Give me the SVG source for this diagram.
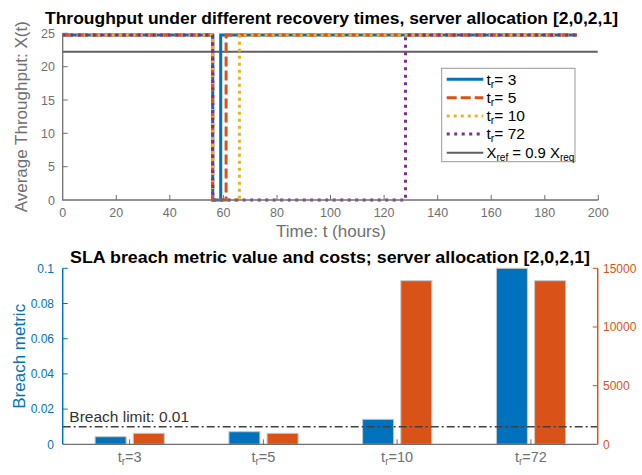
<svg xmlns="http://www.w3.org/2000/svg" width="642" height="475" viewBox="0 0 642 475">
<style>
text{font-family:"Liberation Sans",Arial,sans-serif}
.title{font-size:17px;font-weight:bold;fill:#000}
.tick{font-size:12.5px;fill:#707070}
.lab{font-size:17px;fill:#707070}
.ax{stroke:#707070;stroke-width:1.3;fill:none}
.tk{stroke:#707070;stroke-width:1;fill:none}
.s3{stroke:#0072BD;stroke-width:3;fill:none}
.s5{stroke:#D95319;stroke-width:3;fill:none;stroke-dasharray:10 4}
.s10{stroke:#EDB120;stroke-width:3;fill:none;stroke-dasharray:3 4}
.s72{stroke:#7E2F8E;stroke-width:3;fill:none;stroke-dasharray:3 4.5}
.sref{stroke:#606060;stroke-width:2;fill:none}
.leg{font-size:15.5px;fill:#000}
.btick{font-size:12px;fill:#0072BD}
.otick{font-size:12px;fill:#D95319}
.cat{font-size:14.5px;fill:#707070}
.bb{fill:#0072BD;stroke:#c8c8c8;stroke-width:1}
.ob{fill:#D95319;stroke:#c8c8c8;stroke-width:1}
</style>

<g id="top-plot">
  <text class="title" x="45" y="24" textLength="573" lengthAdjust="spacingAndGlyphs">Throughput under different recovery times, server allocation [2,0,2,1]</text>
  <g id="top-series">
    <path class="sref" d="M62.7,51.8 H597.7"/>
    <path class="s3" d="M62.7,35 H212.7 V200 H220.7 V35 H576.9"/>
    <path class="s5" d="M62.7,35 H212.7 V200 H226.1 V35 H576.9"/>
    <path class="s10" d="M62.7,35 H212.7 V200 H239.4 V35 H576.9"/>
    <path class="s72" d="M62.7,35 H212.7 V200 H405.5 V35 H576.9"/>
  </g>
  <g id="top-axes">
    <path class="ax" d="M62.7,33.3 V200 H598.3"/>
    <path class="tk" d="M62.7,33.3 h5 M62.7,66.7 h5 M62.7,100 h5 M62.7,133.3 h5 M62.7,166.7 h5
      M116.3,200 v-5 M169.8,200 v-5 M223.4,200 v-5 M277,200 v-5 M330.5,200 v-5 M384.1,200 v-5 M437.7,200 v-5 M491.2,200 v-5 M544.8,200 v-5 M598.3,200 v-5"/>
    <g class="tick" text-anchor="end">
      <text x="55" y="38">25</text>
      <text x="55" y="71.2">20</text>
      <text x="55" y="104.5">15</text>
      <text x="55" y="137.8">10</text>
      <text x="55" y="171.2">5</text>
      <text x="55" y="204.5">0</text>
    </g>
    <g class="tick" text-anchor="middle">
      <text x="62.7" y="217">0</text>
      <text x="116.3" y="217">20</text>
      <text x="169.8" y="217">40</text>
      <text x="223.4" y="217">60</text>
      <text x="277" y="217">80</text>
      <text x="330.5" y="217">100</text>
      <text x="384.1" y="217">120</text>
      <text x="437.7" y="217">140</text>
      <text x="491.2" y="217">160</text>
      <text x="544.8" y="217">180</text>
      <text x="598.3" y="217">200</text>
    </g>
    <text class="lab" x="331" y="237" text-anchor="middle">Time: t (hours)</text>
    <text class="lab" transform="translate(26.5,116.7) rotate(-90)" text-anchor="middle">Average Throughput: X(t)</text>
  </g>
  <g id="legend">
    <rect x="441.7" y="68.3" width="133.3" height="93.4" fill="#fff" stroke="#999" stroke-width="1"/>
    <path class="s3" d="M446.7,79.3 H483.3"/>
    <path class="s5" d="M446.7,97.7 H483.3"/>
    <path class="s10" d="M446.7,116 H483.3"/>
    <path class="s72" d="M446.7,134 H483.3"/>
    <path class="sref" d="M446.7,152.7 H483.3"/>
    <text class="leg" x="486.5" y="84.5">t<tspan font-size="10.5" dy="3">r</tspan><tspan dy="-3">= 3</tspan></text>
    <text class="leg" x="486.5" y="102.8">t<tspan font-size="10.5" dy="3">r</tspan><tspan dy="-3">= 5</tspan></text>
    <text class="leg" x="486.5" y="121.1">t<tspan font-size="10.5" dy="3">r</tspan><tspan dy="-3">= 10</tspan></text>
    <text class="leg" x="486.5" y="139.3">t<tspan font-size="10.5" dy="3">r</tspan><tspan dy="-3">= 72</tspan></text>
    <text class="leg" x="486.5" y="157.8" textLength="88" lengthAdjust="spacingAndGlyphs">X<tspan font-size="10.5" dy="3">ref</tspan><tspan dy="-3"> = 0.9 X</tspan><tspan font-size="10.5" dy="3">req</tspan></text>
  </g>
</g>

<g id="bottom-plot">
  <text class="title" x="70" y="263.3" textLength="520" lengthAdjust="spacingAndGlyphs">SLA breach metric value and costs; server allocation [2,0,2,1]</text>
  <g id="bars">
    <rect class="bb" x="95.1" y="436.7" width="31" height="7.6"/>
    <rect class="ob" x="133.3" y="433.3" width="31" height="11"/>
    <rect class="bb" x="228.9" y="431.7" width="31" height="12.6"/>
    <rect class="ob" x="267.1" y="433.3" width="31" height="11"/>
    <rect class="bb" x="362.6" y="419.3" width="31" height="25"/>
    <rect class="ob" x="400.8" y="280.7" width="31" height="163.6"/>
    <rect class="bb" x="496.4" y="268.3" width="31" height="176"/>
    <rect class="ob" x="534.6" y="280.7" width="31" height="163.6"/>
  </g>
  <g id="breach-limit">
    <path d="M62.7,426.7 H597.7" stroke="#404040" stroke-width="1.5" fill="none" stroke-dasharray="8 3 2 3"/>
    <text x="69.3" y="421.5" font-size="15.5" fill="#333">Breach limit: 0.01</text>
  </g>
  <g id="bottom-axes">
    <path class="ax" d="M62.7,444.3 H597.7"/>
    <path class="tk" d="M129.6,444.3 v-5 M263.4,444.3 v-5 M397.1,444.3 v-5 M530.9,444.3 v-5"/>
    <path d="M62.7,268.3 V444.3" stroke="#0072BD" stroke-width="1.5" fill="none"/>
    <path d="M62.7,268.3 h5 M62.7,303.5 h5 M62.7,338.7 h5 M62.7,373.9 h5 M62.7,409.1 h5" stroke="#0072BD" stroke-width="1" fill="none"/>
    <path d="M597.7,268.3 V444.3" stroke="#D95319" stroke-width="1.5" fill="none"/>
    <path d="M597.7,268.3 h-5 M597.7,327 h-5 M597.7,385.7 h-5" stroke="#D95319" stroke-width="1" fill="none"/>
    <g class="btick" text-anchor="end">
      <text x="54" y="272.5">0.1</text>
      <text x="54" y="307.7">0.08</text>
      <text x="54" y="342.9">0.06</text>
      <text x="54" y="378.1">0.04</text>
      <text x="54" y="413.3">0.02</text>
      <text x="54" y="448.5">0</text>
    </g>
    <g class="otick">
      <text x="603" y="272.5">15000</text>
      <text x="603" y="331.2">10000</text>
      <text x="603" y="389.9">5000</text>
      <text x="603" y="448.5">0</text>
    </g>
    <g class="cat" text-anchor="middle">
      <text x="129.6" y="462">t<tspan font-size="10" dy="3">r</tspan><tspan dy="-3">=3</tspan></text>
      <text x="263.4" y="462">t<tspan font-size="10" dy="3">r</tspan><tspan dy="-3">=5</tspan></text>
      <text x="397.1" y="462">t<tspan font-size="10" dy="3">r</tspan><tspan dy="-3">=10</tspan></text>
      <text x="530.9" y="462">t<tspan font-size="10" dy="3">r</tspan><tspan dy="-3">=72</tspan></text>
    </g>
    <text transform="translate(25,356.3) rotate(-90)" text-anchor="middle" font-size="17" fill="#0072BD">Breach metric</text>
  </g>
</g>
</svg>
